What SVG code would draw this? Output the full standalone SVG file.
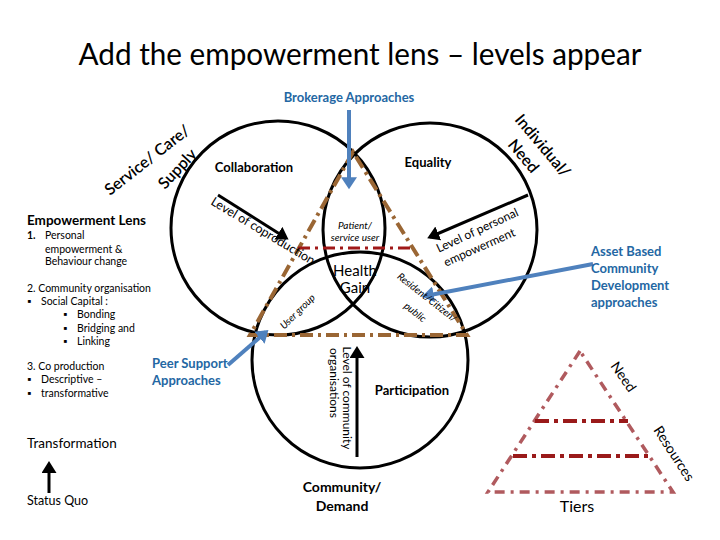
<svg xmlns="http://www.w3.org/2000/svg" width="720" height="540" viewBox="0 0 720 540">
<style>
text{font-family:Lato,"Liberation Sans",sans-serif;fill:#000}
.b{font-weight:bold}
.blue{fill:#2467a3;font-weight:bold;font-size:13px}
.it{font-style:italic;font-size:10px}
.circ{fill:none;stroke:#000;stroke-width:3}
.brown{fill:none;stroke:#9a6634;stroke-width:4;stroke-dasharray:13 5 3 5}
.red{fill:none;stroke:#a01818;stroke-width:3;stroke-dasharray:12 5 3 5}
.pyr{fill:none;stroke:#b05a5e;stroke-width:3.5;stroke-dasharray:10 6 3 6}
.pyrin{fill:none;stroke:#9a1a1a;stroke-width:4;stroke-dasharray:14 5 4 5}
.barr{stroke:#4f81bd;stroke-width:4;fill:none}
.karr{stroke:#000;stroke-width:3;fill:none}
.sm{font-size:10.5px}
.rot{font-size:16px;font-weight:600}
</style>
<defs>
<marker id="bh" markerWidth="4" markerHeight="4" refX="2.2" refY="2" orient="auto" markerUnits="strokeWidth"><path d="M0,0 L3,2 L0,4 Z" fill="#4f81bd"/></marker>
<marker id="kh" markerWidth="5" markerHeight="5" refX="3" refY="2.5" orient="auto" markerUnits="strokeWidth"><path d="M0,0 L4,2.5 L0,5 Z" fill="#000"/></marker>
</defs>
<rect width="720" height="540" fill="#fff"/>
<text x="360" y="65" text-anchor="middle" font-size="31" textLength="563" lengthAdjust="spacingAndGlyphs">Add the empowerment lens – levels appear</text>

<g id="circles">
<circle id="circle-left" class="circ" cx="278" cy="228" r="107"/>
<circle id="circle-right" class="circ" cx="430" cy="230" r="107"/>
<circle id="circle-bottom" class="circ" cx="360" cy="360" r="108"/>
</g>

<g id="connectors">
<path class="brown" d="M353,152 L250,335 L467,335 Z"/>
<path class="red" d="M298,248 L413,248"/>
<path class="barr" d="M349,110 L349,186" marker-end="url(#bh)"/>
<path class="barr" d="M228,365 L266,332" marker-end="url(#bh)"/>
<path class="barr" d="M593,264 L425,296" marker-end="url(#bh)"/>
<path class="karr" d="M218,195 L286,238" marker-end="url(#kh)"/>
<path class="karr" d="M528,195 L430,237" marker-end="url(#kh)"/>
<path class="karr" d="M357,457 L357,349" marker-end="url(#kh)"/>
<path class="karr" d="M49,493 L49,464" marker-end="url(#kh)"/>
</g>

<g id="pyramid">
<path class="pyr" d="M580,351 L488,492 L673,492 Z"/>
<path class="pyrin" d="M535,421 L628,421"/>
<path class="pyrin" d="M513,456 L653,456"/>
<text x="610" y="366" font-size="14" transform="rotate(55 610 366)">Need</text>
<text x="653" y="430" font-size="14" transform="rotate(57 653 430)">Resources</text>
<text x="577" y="512" font-size="16" text-anchor="middle">Tiers</text>
</g>

<g id="brokerage"><text x="349" y="102" class="blue" text-anchor="middle">Brokerage Approaches</text></g>
<g id="service"><text x="110" y="196" class="rot" font-size="17" transform="rotate(-38 110 196)">Service/ Care/</text>
<text x="165" y="190" class="rot" transform="rotate(-47 165 190)">Supply</text></g>
<g id="individual"><text x="514" y="120" class="rot" transform="rotate(50 514 120)">Individual/</text>
<text x="507" y="145" class="rot" transform="rotate(50 507 145)">Need</text></g>
<g id="collab"><text x="254" y="172" class="b" font-size="13" text-anchor="middle">Collaboration</text></g>
<g id="equality"><text x="428" y="167" class="b" font-size="13" text-anchor="middle">Equality</text></g>
<g id="coprod"><text x="210" y="204" font-size="12.5" transform="rotate(31 210 204)">Level of coproduction</text></g>
<g id="patient"><text x="355" y="229" class="it" text-anchor="middle">Patient/</text>
<text x="355" y="241" class="it" text-anchor="middle">service user</text></g>
<g id="health"><text x="355" y="276" font-size="15" text-anchor="middle">Health</text>
<text x="355" y="293" font-size="15" text-anchor="middle">Gain</text></g>
<g id="usergroup"><text x="300" y="314" class="it" text-anchor="middle" transform="rotate(-45 300 314)">User group</text></g>
<g id="resident"><text x="425" y="300" class="it" text-anchor="middle" transform="rotate(38 425 300)">Resident/Citizen/</text>
<text x="413" y="315" class="it" text-anchor="middle" transform="rotate(38 413 315)">public</text></g>
<g id="personal"><text x="479" y="234" font-size="12" text-anchor="middle" transform="rotate(-25 479 234)">Level of personal</text>
<text x="481" y="251" font-size="12" text-anchor="middle" transform="rotate(-24 481 251)">empowerment</text></g>
<g id="community-level"><text x="343" y="398" font-size="12" text-anchor="middle" transform="rotate(90 343 398)">Level of community</text>
<text x="330" y="383" font-size="12" text-anchor="middle" transform="rotate(90 330 383)">organisations</text></g>
<g id="participation"><text x="412" y="395" class="b" font-size="13" text-anchor="middle">Participation</text></g>
<g id="community"><text x="342" y="492" class="b" font-size="14" text-anchor="middle">Community/</text>
<text x="342" y="511" class="b" font-size="14" text-anchor="middle">Demand</text></g>
<g id="peer"><text x="152" y="368" class="blue">Peer Support</text>
<text x="152" y="385" class="blue">Approaches</text></g>
<g id="asset"><text x="591" y="256" class="blue">Asset Based</text>
<text x="591" y="273" class="blue">Community</text>
<text x="591" y="290" class="blue">Development</text>
<text x="591" y="307" class="blue">approaches</text></g>

<g id="lens">
<text x="27" y="225" class="b" font-size="13.5">Empowerment Lens</text>
<text x="27" y="239" class="sm b">1.</text><text x="45" y="239" class="sm">Personal</text>
<text x="45" y="253" class="sm">empowerment &amp;</text>
<text x="45" y="265" class="sm">Behaviour change</text>
<text x="27" y="292" class="sm">2. Community organisation</text>
<text x="27" y="305" class="sm">▪</text><text x="41" y="305" class="sm">Social Capital :</text>
<text x="63" y="318" class="sm">▪</text><text x="77" y="318" class="sm">Bonding</text>
<text x="63" y="332" class="sm">▪</text><text x="77" y="332" class="sm">Bridging and</text>
<text x="63" y="345" class="sm">▪</text><text x="77" y="345" class="sm">Linking</text>
<text x="27" y="370" class="sm">3. Co production</text>
<text x="27" y="383" class="sm">▪</text><text x="41" y="383" class="sm">Descriptive –</text>
<text x="27" y="397" class="sm">▪</text><text x="41" y="397" class="sm">transformative</text>
</g>
<g id="transformation"><text x="27" y="448" font-size="13.5">Transformation</text></g>
<g id="statusquo"><text x="27" y="505" font-size="12.5">Status Quo</text></g>
</svg>
